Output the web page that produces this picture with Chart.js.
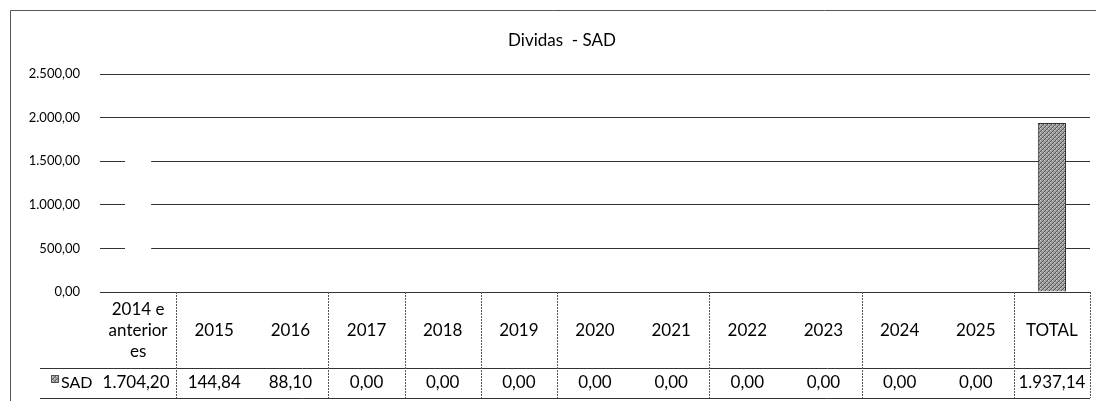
<!DOCTYPE html>
<html>
<head>
<meta charset="utf-8">
<script src="https://cdn.jsdelivr.net/npm/chart.js@4"></script>
<style>
html,body{margin:0;padding:0;background:#fff;}
canvas{display:block;}
</style>
</head>
<body>
<canvas id="c" width="1096" height="401"></canvas>
<script>
// ---- data ----
const categories = ["2014 e anteriores","2015","2016","2017","2018","2019","2020","2021","2022","2023","2024","2025","TOTAL"];
const headerLines = [["2014 e","anterior","es"],["2015"],["2016"],["2017"],["2018"],["2019"],["2020"],["2021"],["2022"],["2023"],["2024"],["2025"],["TOTAL"]];
const sadValues = [1704.20, 144.84, 88.10, 0.00, 0.00, 0.00, 0.00, 0.00, 0.00, 0.00, 0.00, 0.00, 1937.14];
const seriesName = "SAD";
const chartTitle = "Dividas  - SAD";
const yTicks = [0, 500, 1000, 1500, 2000, 2500];
// column dividers visible in the table (after category index)
const dividerAfter = [0, 2, 3, 4, 5, 7, 9, 11, 12];

function fmt(v){
  const parts = v.toFixed(2).split('.');
  parts[0] = parts[0].replace(/\B(?=(\d{3})+(?!\d))/g, '.');
  return parts[0] + ',' + parts[1];
}

// hatched gray pattern for the total bar
function makePattern(){
  const p = document.createElement('canvas');
  p.width = 4; p.height = 4;
  const g = p.getContext('2d');
  g.fillStyle = '#a0a0a0'; g.fillRect(0,0,4,4);
  g.fillStyle = '#555555';
  for (let i=0;i<4;i++){ g.fillRect(i,(3-i),1,1); }
  g.fillStyle = '#d0d0d0';
  g.fillRect(0,0,1,1); g.fillRect(2,2,1,1);
  return document.getElementById('c').getContext('2d').createPattern(p,'repeat');
}
const pattern = makePattern();
const barColors = categories.map((c,i)=> i === categories.length-1 ? pattern : '#ffffff');
const barBorders = categories.map((c,i)=> i === categories.length-1 ? '#333333' : 'rgba(0,0,0,0)');

const FONT = 'Lato, "Open Sans", sans-serif';

const tablePlugin = {
  id: 'tablePlugin',
  afterDraw(chart){
    const ctx = chart.ctx;
    const x = chart.scales.x;
    const area = chart.chartArea;
    const top = area.bottom;
    const midLine = 368, bottom = 398;
    ctx.save();
    // outer border
    ctx.strokeStyle = '#555';
    ctx.lineWidth = 1;
    ctx.setLineDash([]);
    ctx.beginPath();
    ctx.moveTo(10.5, 401); ctx.lineTo(10.5, 10.5); ctx.lineTo(1096, 10.5);
    ctx.stroke();
    // title
    ctx.fillStyle = '#000';
    ctx.font = '17px ' + FONT;
    ctx.textAlign = 'center';
    ctx.textBaseline = 'middle';
    ctx.fillText(chartTitle, 562, 41);
    // table horizontal lines
    ctx.strokeStyle = '#333';
    ctx.beginPath();
    ctx.moveTo(40, midLine+0.5); ctx.lineTo(area.right, midLine+0.5);
    ctx.moveTo(40, bottom+0.5); ctx.lineTo(area.right, bottom+0.5);
    ctx.stroke();
    // vertical dividers
    const step = (area.right - area.left) / categories.length;
    ctx.strokeStyle = '#555';
    ctx.setLineDash([2,1]);
    ctx.beginPath();
    dividerAfter.forEach(i=>{
      const xx = Math.round(area.left + step*(i+1)) + 0.5;
      ctx.moveTo(xx, top); ctx.lineTo(xx, bottom);
    });
    ctx.stroke();
    ctx.setLineDash([]);
    // header & values
    ctx.fillStyle = '#000';
    ctx.font = '17px ' + FONT;
    ctx.textAlign = 'center';
    categories.forEach((c,i)=>{
      const cx = x.getPixelForValue(i);
      const lines = headerLines[i];
      const lh = 21;
      const y0 = 331 - (lines.length-1)*lh/2;
      lines.forEach((ln,k)=> ctx.fillText(ln, cx, y0 + k*lh));
      ctx.fillText(fmt(sadValues[i]), cx + (i===0?-2:0), 383);
    });
    // legend key
    ctx.fillStyle = pattern;
    ctx.fillRect(51, 375, 8, 8);
    ctx.strokeStyle = '#555';
    ctx.strokeRect(51.5, 375.5, 7, 7);
    ctx.fillStyle = '#000';
    ctx.textAlign = 'left';
    ctx.font = '16px ' + FONT;
    ctx.fillText(seriesName, 61, 383);
    ctx.restore();
  }
};

new Chart(document.getElementById('c'), {
  type: 'bar',
  data: {
    labels: categories,
    datasets: [{
      label: seriesName,
      data: sadValues,
      backgroundColor: barColors,
      borderColor: barBorders,
      borderWidth: 1,
      barPercentage: 0.37,
      categoryPercentage: 1.0
    }]
  },
  options: {
    responsive: false,
    animation: false,
    devicePixelRatio: 1,
    layout: { padding: { top: 74, bottom: 109, left: 0, right: 6 } },
    plugins: { legend: { display: false }, tooltip: { enabled: false }, title: { display: false } },
    scales: {
      x: { display: false },
      y: {
        min: 0, max: 2500,
        afterBuildTicks: s => { s.ticks = yTicks.map(v => ({ value: v })); },
        afterFit: s => { s.width = 100; },
        ticks: {
          padding: 20,
          color: '#000',
          font: { family: FONT, size: 13 },
          callback: v => fmt(v)
        },
        grid: { color: '#333', drawTicks: false, lineWidth: 1 },
        border: { display: false }
      }
    }
  },
  plugins: [tablePlugin]
});
</script>
</body>
</html>
